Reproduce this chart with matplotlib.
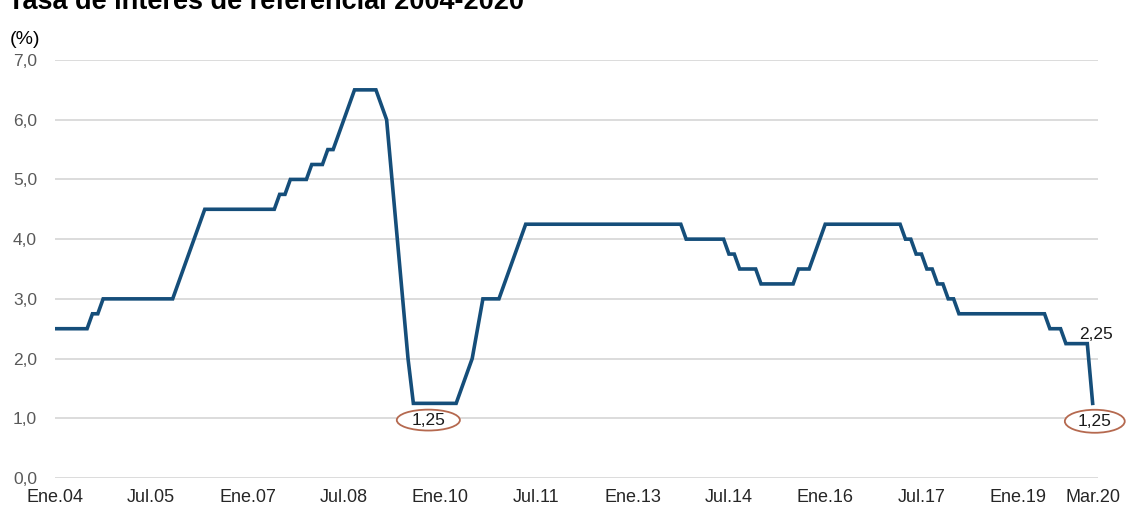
import matplotlib
matplotlib.use("Agg")
import matplotlib.pyplot as plt
from matplotlib import font_manager
from matplotlib.patches import Ellipse

# Tasa de referencia (vértices de la serie mensual, índice 0 = Ene.04)
mes = [0, 6, 7, 8, 9, 22, 28, 41, 42, 43, 44, 47, 48, 50, 51, 52, 56, 60, 62, 63,
       64, 65, 66, 67, 75, 78, 80, 83, 88, 117, 118, 125, 126, 127, 128, 131, 132,
       138, 139, 141, 144, 158, 159, 160, 161, 162, 163, 164, 165, 166, 167, 168,
       169, 185, 186, 188, 189, 193, 194]
tasa = [2.5, 2.5, 2.75, 2.75, 3.0, 3.0, 4.5, 4.5, 4.75, 4.75, 5.0, 5.0, 5.25, 5.25,
        5.5, 5.5, 6.5, 6.5, 6.0, 5.0, 4.0, 3.0, 2.0, 1.25, 1.25, 2.0, 3.0, 3.0, 4.25,
        4.25, 4.0, 4.0, 3.75, 3.75, 3.5, 3.5, 3.25, 3.25, 3.5, 3.5, 4.25, 4.25, 4.0,
        4.0, 3.75, 3.75, 3.5, 3.5, 3.25, 3.25, 3.0, 3.0, 2.75, 2.75, 2.5, 2.5, 2.25,
        2.25, 1.25]

tick_pos = [0, 18, 36, 54, 72, 90, 108, 126, 144, 162, 180, 194]
tick_lab = ["Ene.04", "Jul.05", "Ene.07", "Jul.08", "Ene.10", "Jul.11",
            "Ene.13", "Jul.14", "Ene.16", "Jul.17", "Ene.19", "Mar.20"]
y_ticks = [0, 1, 2, 3, 4, 5, 6, 7]

names = {f.name for f in font_manager.fontManager.ttflist}
fam = "Liberation Sans" if "Liberation Sans" in names else "DejaVu Sans"
plt.rcParams["font.family"] = fam

fig = plt.figure(figsize=(11.31, 5.07), dpi=100)
ax = fig.add_axes([55 / 1131, 29 / 507, 1043 / 1131, 418 / 507])

ax.plot(mes, tasa, color="#154e7a", linewidth=2.6, solid_joinstyle="miter", zorder=3)

ax.set_xlim(0, 195)
ax.set_ylim(0, 7)
ax.set_yticks(y_ticks)
ax.set_yticklabels([f"{v:.1f}".replace(".", ",") for v in y_ticks],
                   fontsize=12.5, color="#595959")
ax.set_xticks(tick_pos)
ax.set_xticklabels(tick_lab, fontsize=13, color="#262626")
ax.tick_params(axis="y", length=0, pad=13)
ax.tick_params(axis="x", length=0, pad=8)
ax.grid(axis="y", color="#d9d9d9", linewidth=1.3)
ax.set_axisbelow(True)
for s in ax.spines.values():
    s.set_visible(False)

# anotaciones
ax.text(194.6, 2.40, "2,25", ha="center", va="center", fontsize=12.5, color="#1a1a1a",
        clip_on=False)
for cx, cy, w, h in [(69.8, 0.97, 11.8, 0.35), (194.4, 0.95, 11.2, 0.385)]:
    ax.add_patch(Ellipse((cx, cy), w, h, facecolor="white", edgecolor="#b5694f",
                         linewidth=1.3, clip_on=False, zorder=4))
    ax.text(cx, cy, "1,25", ha="center", va="center", fontsize=12.5, color="#1a1a1a",
            zorder=5, clip_on=False)

# el título aparece recortado en el borde superior, como en el original
fig.text(8 / 1131, 1 - 9 / 507, "Tasa de interés de referencial 2004-2020",
         fontsize=19.5, fontweight="bold", va="baseline", ha="left")
fig.text(10 / 1131, 1 - 39 / 507, "(%)", fontsize=14, va="center", ha="left")

fig.savefig("out.png", dpi=100)
